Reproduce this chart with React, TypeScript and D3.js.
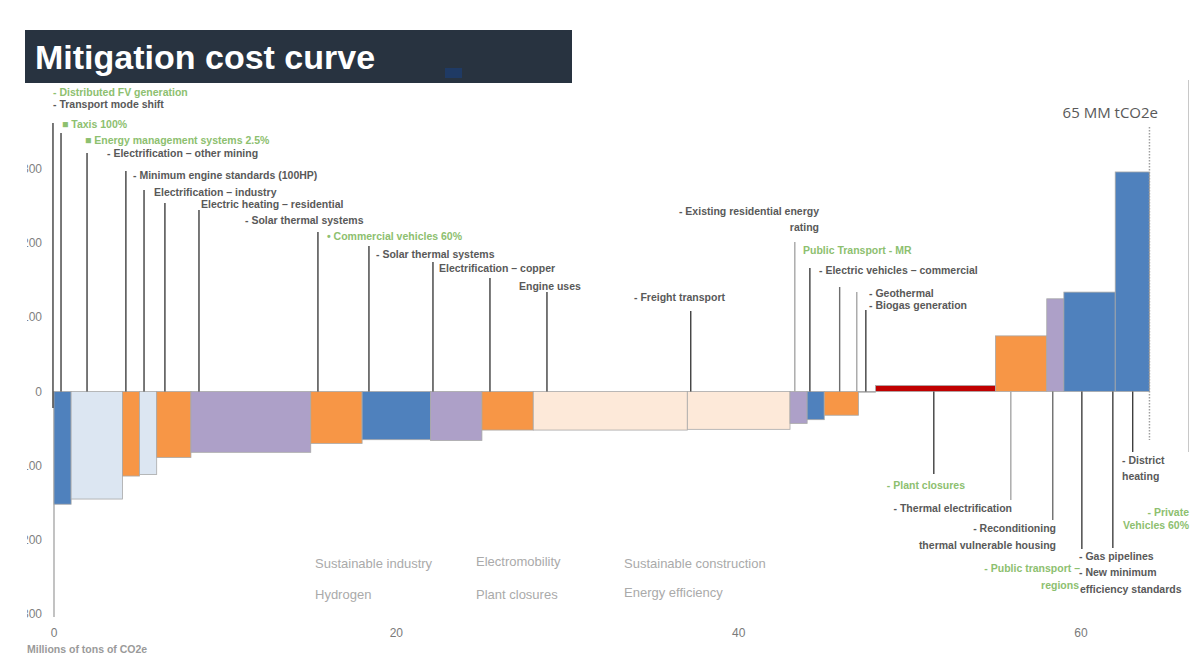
import React from "react";
import * as d3 from "d3";

// Abatement measures, ordered by cost: width = abatement (MtCO2e), cost per tonne
const widths = [1, 3, 1, 1, 2, 7, 3, 4, 3, 3, 9, 6, 1, 1, 2, 1, 7, 3, 1, 3, 2];
const costs = [-152, -145, -114, -112, -89, -82, -70, -65, -66, -52, -52, -51, -43, -38, -32, -1, 8, 75, 125, 134, 296];
const groups = [
  "industry", "hydrogen", "mobility", "hydrogen", "mobility", "efficiency", "mobility",
  "industry", "efficiency", "mobility", "construction", "construction", "efficiency",
  "industry", "mobility", "other", "closures", "mobility", "efficiency", "industry", "industry",
];

const groupColors: Record<string, string> = {
  industry: "#4f81bd",
  hydrogen: "#dce6f2",
  mobility: "#f79646",
  efficiency: "#ada0c8",
  construction: "#fde9d9",
  closures: "#c00000",
  other: "#d9d9d9",
};

const yTicks = [-300, -200, -100, 0, 100, 200, 300];
const xTicks = [0, 20, 40, 60];
const totalLabel = "65 MM tCO2e";

const legendCols = [
  ["Sustainable industry", "Hydrogen"],
  ["Electromobility", "Plant closures"],
  ["Sustainable construction", "Energy efficiency"],
];

// Leader lines: position on the abatement axis, free end (px), tone
const leaders = [
  { x: -0.06, end: 123, tone: "dark", below: 408 },
  { x: 0.41, end: 133, tone: "dark" },
  { x: 1.93, end: 153, tone: "dark" },
  { x: 4.2, end: 171, tone: "dark" },
  { x: 5.26, end: 190, tone: "dark" },
  { x: 6.48, end: 203, tone: "dark" },
  { x: 8.47, end: 210, tone: "dark" },
  { x: 15.42, end: 232, tone: "dark" },
  { x: 18.4, end: 246, tone: "dark" },
  { x: 22.14, end: 262, tone: "dark" },
  { x: 25.47, end: 278, tone: "dark" },
  { x: 28.8, end: 292, tone: "dark" },
  { x: 37.2, end: 311, tone: "dark" },
  { x: 43.28, end: 242, tone: "light" },
  { x: 44.16, end: 268, tone: "dark" },
  { x: 45.9, end: 287, tone: "mid" },
  { x: 46.9, end: 292, tone: "light" },
  { x: 47.43, end: 310, tone: "dark" },
  { x: 51.4, end: 474, tone: "dark" },
  { x: 55.9, end: 500, tone: "light" },
  { x: 58.35, end: 520, tone: "mid" },
  { x: 60.05, end: 549, tone: "dark" },
  { x: 61.86, end: 548, tone: "dark" },
  { x: 63.02, end: 452, tone: "dark" },
];

const GREEN = "#8dc06f";
const DARK = "#595959";

type Lbl = { t: string; x: number; y: number; c?: string; a?: "start" | "end" | "middle" };
const labels: Lbl[] = [
  { t: "- Distributed FV generation", x: 53, y: 96, c: GREEN },
  { t: "- Transport mode shift", x: 53, y: 108 },
  { t: "■ Taxis 100%", x: 62, y: 128, c: GREEN },
  { t: "■ Energy management systems 2.5%", x: 85, y: 144, c: GREEN },
  { t: "- Electrification – other mining", x: 107, y: 157 },
  { t: "- Minimum engine standards (100HP)", x: 133, y: 179 },
  { t: "Electrification – industry", x: 154, y: 196 },
  { t: "Electric heating – residential", x: 201, y: 208 },
  { t: "- Solar thermal systems", x: 245, y: 224 },
  { t: "• Commercial vehicles 60%", x: 327, y: 240, c: GREEN },
  { t: "- Solar thermal systems", x: 376, y: 258 },
  { t: "Electrification – copper", x: 439, y: 272 },
  { t: "Engine uses", x: 519, y: 290 },
  { t: "- Existing residential energy", x: 819, y: 215, a: "end" },
  { t: "rating", x: 819, y: 231, a: "end" },
  { t: "- Freight transport", x: 634, y: 301 },
  { t: "Public Transport - MR", x: 803, y: 254, c: GREEN },
  { t: "- Electric vehicles – commercial", x: 819, y: 274 },
  { t: "- Geothermal", x: 869, y: 297 },
  { t: "- Biogas generation", x: 869, y: 309 },
  { t: "- Plant closures", x: 965, y: 489, c: GREEN, a: "end" },
  { t: "- Thermal electrification", x: 1012, y: 512, a: "end" },
  { t: "- Reconditioning", x: 1056, y: 532, a: "end" },
  { t: "thermal vulnerable housing", x: 1056, y: 549, a: "end" },
  { t: "- Gas pipelines", x: 1079, y: 560 },
  { t: "- New minimum", x: 1079, y: 576 },
  { t: "efficiency standards", x: 1080, y: 593 },
  { t: "- Public transport –", x: 1080, y: 572, c: GREEN, a: "end" },
  { t: "regions", x: 1079, y: 589, c: GREEN, a: "end" },
  { t: "- District", x: 1122, y: 464 },
  { t: "heating", x: 1122, y: 480 },
  { t: "- Private", x: 1189, y: 516, c: GREEN, a: "end" },
  { t: "Vehicles 60%", x: 1189, y: 529, c: GREEN, a: "end" },
];

export default function App() {
  const W = 1199;
  const H = 657;
  const x = d3.scaleLinear().domain([0, 60]).range([54, 1081]);
  const y = d3.scaleLinear().domain([-300, 300]).range([614, 169]);
  const starts = d3.cumsum([0, ...widths]);
  const total = d3.sum(widths);
  const toneColor: Record<string, string> = { dark: "#3f3f3f", mid: "#6e6e6e", light: "#a6a6a6" };
  const labelFont = "'Liberation Sans', Arial, sans-serif";

  return (
    <svg
      width={W}
      height={H}
      viewBox={`0 0 ${W} ${H}`}
      style={{ position: "absolute", left: 0, top: 0, background: "#fff" }}
    >
      <defs>
        <clipPath id="yclip">
          <rect x={27} y={0} width={40} height={H} />
        </clipPath>
      </defs>

      {/* title bar */}
      <rect x={25} y={30} width={547} height={53} fill="#283340" />
      <rect x={445} y={68} width={17} height={10} fill="#1f3a64" />
      <text x={35} y={69} fill="#fff" fontFamily={labelFont} fontWeight="bold" fontSize={34}>
        Mitigation cost curve
      </text>

      {/* right frame edge */}
      <line x1={1188.5} x2={1188.5} y1={80} y2={452} stroke="#c8c8c8" strokeWidth={1} />

      {/* y axis tick labels */}
      <g clipPath="url(#yclip)">
        {yTicks.map((v) => (
          <text
            key={v}
            x={42}
            y={y(v) + 4}
            textAnchor="end"
            fontFamily={labelFont}
            fontSize={12}
            fill="#7f7f7f"
          >
            {v}
          </text>
        ))}
      </g>

      {/* axis line below zero */}
      <line x1={x(0)} x2={x(0)} y1={y(0)} y2={617} stroke="#9a9a9a" strokeWidth={1.2} />

      {/* bars */}
      {widths.map((w, i) => {
        const x0 = x(starts[i]);
        const x1 = x(starts[i] + w);
        const c = costs[i];
        return (
          <rect
            key={i}
            x={x0}
            width={x1 - x0}
            y={Math.min(y(c), y(0))}
            height={Math.abs(y(c) - y(0))}
            fill={groupColors[groups[i]]}
            stroke="#a8a8a8"
            strokeWidth={0.8}
          />
        );
      })}

      {/* total abatement marker */}
      <line
        x1={x(total)}
        x2={x(total)}
        y1={127}
        y2={440}
        stroke="#a0a0a0"
        strokeWidth={1.5}
        strokeDasharray="1.5 1.5"
      />
      <text x={1158} y={118} textAnchor="end" fontFamily="'Open Sans', sans-serif" fontSize={15} fill="#595959">
        {totalLabel}
      </text>

      {/* leader lines */}
      {leaders.map((l, i) => {
        const below = l.end > y(0);
        const y1 = below ? y(0) : l.end;
        const y2 = below ? l.end : l.below ?? y(0);
        return (
          <line
            key={i}
            x1={x(l.x)}
            x2={x(l.x)}
            y1={y1}
            y2={y2}
            stroke={toneColor[l.tone]}
            strokeWidth={1.4}
          />
        );
      })}

      {/* measure labels */}
      {labels.map((l, i) => (
        <text
          key={i}
          x={l.x}
          y={l.y}
          textAnchor={l.a ?? "start"}
          fontFamily={labelFont}
          fontWeight="bold"
          fontSize={10.5}
          fill={l.c ?? DARK}
        >
          {l.t}
        </text>
      ))}

      {/* x axis */}
      {xTicks.map((v) => (
        <text
          key={v}
          x={x(v)}
          y={637}
          textAnchor="middle"
          fontFamily={labelFont}
          fontSize={12}
          fill="#7a7a7a"
        >
          {v}
        </text>
      ))}
      <text x={27} y={653} fontFamily={labelFont} fontWeight="bold" fontSize={10.5} fill="#9a9a9a">
        Millions of tons of CO2e
      </text>

      {/* group names */}
      {legendCols.map((col, ci) =>
        col.map((t, ri) => (
          <text
            key={t}
            x={[315, 476, 624][ci]}
            y={[568, 599][ri] + (ci === 1 && ri === 0 ? -2 : 0) + (ci === 2 && ri === 1 ? -2 : 0)}
            fontFamily={labelFont}
            fontSize={13}
            fill="#aaaaaa"
          >
            {t}
          </text>
        ))
      )}
    </svg>
  );
}
